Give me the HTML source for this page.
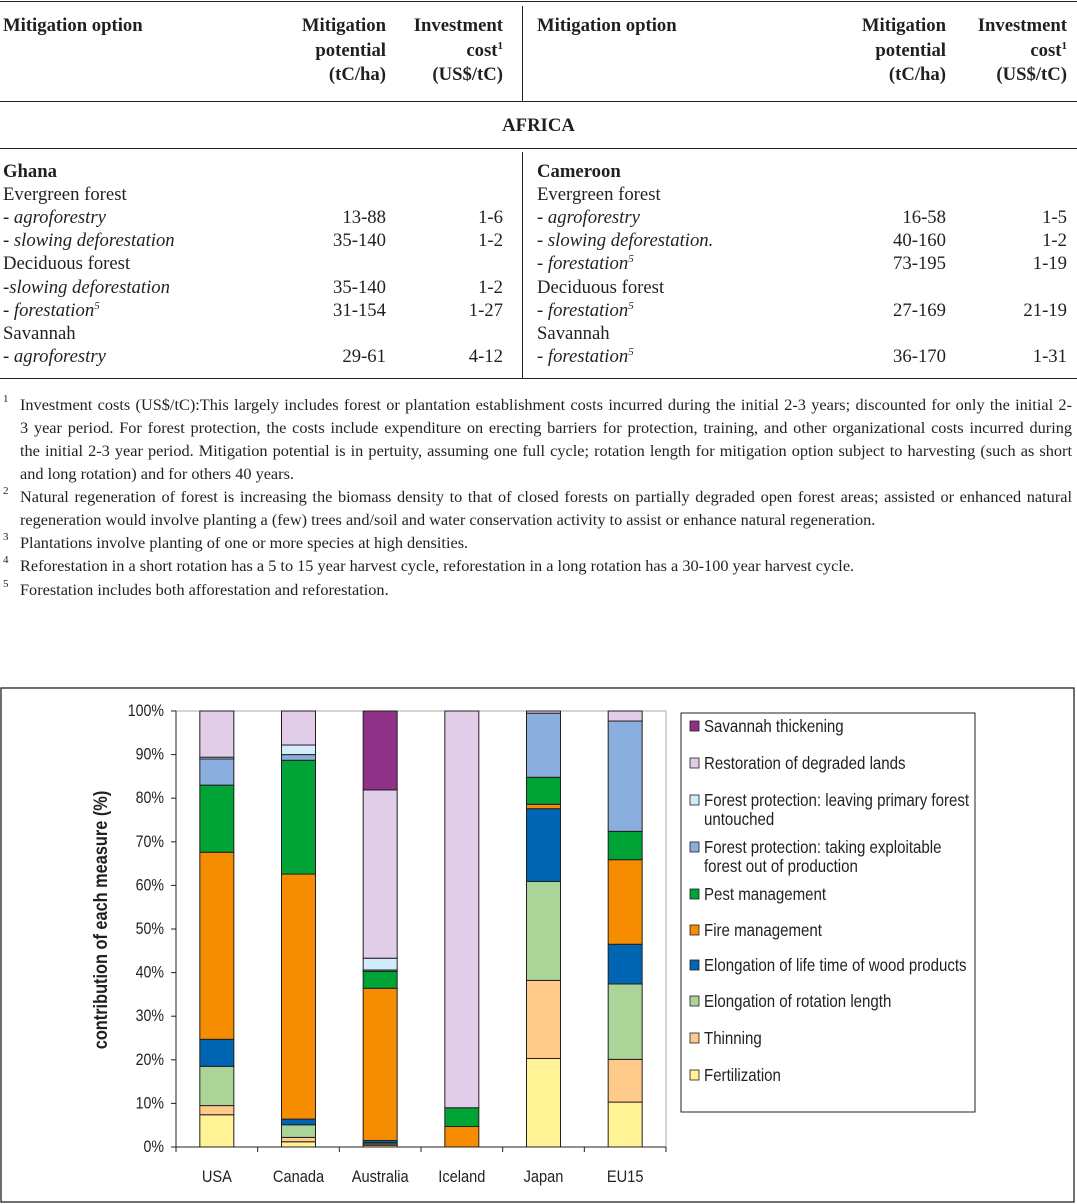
<!DOCTYPE html>
<html><head><meta charset="utf-8">
<style>
body{margin:0;width:1077px;height:1204px;background:#fff;position:relative;overflow:hidden;font-family:"Liberation Serif",serif;color:#231f20}
.t{position:absolute;font-size:18.7px;line-height:20px;white-space:nowrap}
.r{text-align:right}
.b{font-weight:bold}
.i{font-style:italic}
.hl{position:absolute;height:1.3px;background:#231f20}
.vl{position:absolute;width:1.3px;background:#231f20}
sup{font-size:11px;line-height:0}
.fl{position:absolute;left:20px;width:1052px;font-size:16.3px;line-height:23px;white-space:nowrap;text-align:justify;text-align-last:justify}
.ll{text-align-last:left}
.fnn{position:absolute;left:3px;font-size:11px}
</style></head><body>
<div class="hl" style="left:0;top:1px;width:1077px"></div>
<div class="hl" style="left:0;top:101px;width:1077px"></div>
<div class="hl" style="left:0;top:148px;width:1077px"></div>
<div class="hl" style="left:0;top:378px;width:1077px"></div>
<div class="vl" style="left:522px;top:6px;height:96px"></div>
<div class="vl" style="left:522px;top:152px;height:226px"></div>

<div>
<div class="t b" style="left:3px;top:16px">Mitigation option</div>
<div class="t b r" style="left:236px;width:150px;top:16px">Mitigation</div>
<div class="t b r" style="left:236px;width:150px;top:41px">potential</div>
<div class="t b r" style="left:236px;width:150px;top:65px">(tC/ha)</div>
<div class="t b r" style="left:353px;width:150px;top:16px">Investment</div>
<div class="t b r" style="left:353px;width:150px;top:41px">cost<sup>1</sup></div>
<div class="t b r" style="left:353px;width:150px;top:65px">(US$/tC)</div>
</div>
<div>
<div class="t b" style="left:537px;top:16px">Mitigation option</div>
<div class="t b r" style="left:796px;width:150px;top:16px">Mitigation</div>
<div class="t b r" style="left:796px;width:150px;top:41px">potential</div>
<div class="t b r" style="left:796px;width:150px;top:65px">(tC/ha)</div>
<div class="t b r" style="left:917px;width:150px;top:16px">Investment</div>
<div class="t b r" style="left:917px;width:150px;top:41px">cost<sup>1</sup></div>
<div class="t b r" style="left:917px;width:150px;top:65px">(US$/tC)</div>
</div>
<div class="t b" style="left:0;width:1077px;text-align:center;top:116px">AFRICA</div>

<div>
<div class="t b" style="left:3px;top:162px">Ghana</div>
<div class="t" style="left:3px;top:185px">Evergreen forest</div>
<div class="t i" style="left:3px;top:208px">- agroforestry</div><div class="t r" style="left:236px;width:150px;top:208px">13-88</div><div class="t r" style="left:353px;width:150px;top:208px">1-6</div>
<div class="t i" style="left:3px;top:231px">- slowing deforestation</div><div class="t r" style="left:236px;width:150px;top:231px">35-140</div><div class="t r" style="left:353px;width:150px;top:231px">1-2</div>
<div class="t" style="left:3px;top:254px">Deciduous forest</div>
<div class="t i" style="left:3px;top:278px">-slowing deforestation</div><div class="t r" style="left:236px;width:150px;top:278px">35-140</div><div class="t r" style="left:353px;width:150px;top:278px">1-2</div>
<div class="t i" style="left:3px;top:301px">- forestation<sup>5</sup></div><div class="t r" style="left:236px;width:150px;top:301px">31-154</div><div class="t r" style="left:353px;width:150px;top:301px">1-27</div>
<div class="t" style="left:3px;top:324px">Savannah</div>
<div class="t i" style="left:3px;top:347px">- agroforestry</div><div class="t r" style="left:236px;width:150px;top:347px">29-61</div><div class="t r" style="left:353px;width:150px;top:347px">4-12</div>
</div>
<div>
<div class="t b" style="left:537px;top:162px">Cameroon</div>
<div class="t" style="left:537px;top:185px">Evergreen forest</div>
<div class="t i" style="left:537px;top:208px">- agroforestry</div><div class="t r" style="left:796px;width:150px;top:208px">16-58</div><div class="t r" style="left:917px;width:150px;top:208px">1-5</div>
<div class="t i" style="left:537px;top:231px">- slowing deforestation.</div><div class="t r" style="left:796px;width:150px;top:231px">40-160</div><div class="t r" style="left:917px;width:150px;top:231px">1-2</div>
<div class="t i" style="left:537px;top:254px">- forestation<sup>5</sup></div><div class="t r" style="left:796px;width:150px;top:254px">73-195</div><div class="t r" style="left:917px;width:150px;top:254px">1-19</div>
<div class="t" style="left:537px;top:278px">Deciduous forest</div>
<div class="t i" style="left:537px;top:301px">- forestation<sup>5</sup></div><div class="t r" style="left:796px;width:150px;top:301px">27-169</div><div class="t r" style="left:917px;width:150px;top:301px">21-19</div>
<div class="t" style="left:537px;top:324px">Savannah</div>
<div class="t i" style="left:537px;top:347px">- forestation<sup>5</sup></div><div class="t r" style="left:796px;width:150px;top:347px">36-170</div><div class="t r" style="left:917px;width:150px;top:347px">1-31</div>
</div>

<div>
<div class="fnn" style="top:393px">1</div>
<div class="fl" style="top:393px">Investment costs (US$/tC):This largely includes forest or plantation establishment costs incurred during the initial 2-3 years; discounted for only the initial 2-</div>
<div class="fl" style="top:416px">3 year period. For forest protection, the costs include expenditure on erecting barriers for protection, training, and other organizational costs incurred during</div>
<div class="fl" style="top:439px">the initial 2-3 year period. Mitigation potential is in pertuity, assuming one full cycle; rotation length for mitigation option subject to harvesting (such as short</div>
<div class="fl ll" style="top:462px">and long rotation) and for others 40 years.</div>
<div class="fnn" style="top:485px">2</div>
<div class="fl" style="top:485px">Natural regeneration of forest is increasing the biomass density to that of closed forests on partially degraded open forest areas; assisted or enhanced natural</div>
<div class="fl ll" style="top:508px">regeneration would involve planting a (few) trees and/soil and water conservation activity to assist or enhance natural regeneration.</div>
<div class="fnn" style="top:531px">3</div>
<div class="fl ll" style="top:531px">Plantations involve planting of one or more species at high densities.</div>
<div class="fnn" style="top:554px">4</div>
<div class="fl ll" style="top:554px">Reforestation in a short rotation has a 5 to 15 year harvest cycle, reforestation in a long rotation has a 30-100 year harvest cycle.</div>
<div class="fnn" style="top:578px">5</div>
<div class="fl ll" style="top:578px">Forestation includes both afforestation and reforestation.</div>
</div>

<svg id="chart" style="position:absolute;left:0;top:0" width="1077" height="1204" font-family="'Liberation Sans',sans-serif"></svg>
<script>
const categories=["USA","Canada","Australia","Iceland","Japan","EU15"];
const seriesNames=["Fertilization","Thinning","Elongation of rotation length","Elongation of life time of wood products","Fire management","Pest management","Forest protection: taking exploitable forest out of production","Forest protection: leaving primary forest untouched","Restoration of degraded lands","Savannah thickening"];
const fertilization=[7.4,1.2,0.4,0,20.3,10.3];
const thinning=[2.1,1.0,0.3,0,17.9,9.8];
const rotation=[9.0,2.9,0.3,0,22.7,17.3];
const woodProducts=[6.2,1.3,0.5,0,16.7,9.1];
const fireMgmt=[42.9,56.2,34.9,4.7,1.0,19.4];
const pestMgmt=[15.4,26.1,3.9,4.3,6.2,6.5];
const protectionOutOfProduction=[6.0,1.3,0.3,0,14.7,25.3];
const protectionUntouched=[0.4,2.2,2.7,0,0,0];
const restoration=[10.6,7.8,38.6,91.0,0.5,2.3];
const savannah=[0,0,18.1,0,0,0];
const yTicks=[0,10,20,30,40,50,60,70,80,90,100];
const series=[fertilization,thinning,rotation,woodProducts,fireMgmt,pestMgmt,protectionOutOfProduction,protectionUntouched,restoration,savannah];
const colors=["#fff396","#ffca8a","#abd499","#0066b3","#f68d00","#00a335","#8aafdf","#d2ecfb","#e2cde8","#8e3187"];
const legendOrder=[9,8,7,6,5,4,3,2,1,0];
const legendLines=[["Savannah thickening"],["Restoration of degraded lands"],["Forest protection: leaving primary forest","untouched"],["Forest protection: taking exploitable","forest out of production"],["Pest management"],["Fire management"],["Elongation of life time of wood products"],["Elongation of rotation length"],["Thinning"],["Fertilization"]];
const legendY=[726,763,800,847,894,930,965,1001,1038,1075];

const svg=document.getElementById('chart');const NS='http://www.w3.org/2000/svg';
function mk(tag,attrs,parent){const e=document.createElementNS(NS,tag);for(const k in attrs)e.setAttribute(k,attrs[k]);(parent||svg).appendChild(e);return e;}
const X0=176,X1=666,Y0=1147,Y1=711;
const yScale=v=>Y0-(v/100)*(Y0-Y1);
const band=(X1-X0)/categories.length;
const xCenter=i=>X0+band*(i+0.5);
const bw=34;
const SX=0.86;

const frame=mk('rect',{x:1,y:688,width:1073,height:514,fill:'none',stroke:'#231f20','stroke-width':1.3});


const plot=mk('rect',{x:X0,y:Y1,width:X1-X0,height:Y0-Y1,fill:'#fff',stroke:'#a7a9ac','stroke-width':1});



yTicks.forEach(t=>{
  const y=yScale(t);
  const tk=mk('line',{x1:X0-5,x2:X0,y1:y,y2:y,stroke:'#231f20','stroke-width':1});
  
  
  const lb=mk('text',{x:0,y:0,transform:'translate('+(X0-12)+','+(y+5)+') scale('+SX+',1)','text-anchor':'end','font-size':16.5,fill:'#231f20'});
  lb.textContent=t+'%';
  
  
});
const ax=mk('line',{x1:X0,x2:X0,y1:Y1,y2:Y0,stroke:'#231f20','stroke-width':1});


const xa=mk('line',{x1:X0,x2:X1,y1:Y0,y2:Y0,stroke:'#231f20','stroke-width':1});


for(let i=0;i<=categories.length;i++){
  const x=X0+band*i;
  const tk=mk('line',{x1:x,x2:x,y1:Y0,y2:Y0+5,stroke:'#231f20','stroke-width':1});
  
  
}
const yt=mk('text',{x:0,y:0,transform:'translate(107,920) rotate(-90) scale('+SX+',1)','text-anchor':'middle','font-size':19,'font-weight':'bold',fill:'#231f20'});
yt.textContent='contribution of each measure (%)';



categories.forEach((c,i)=>{
  let cum=0;
  series.forEach((s,k)=>{
    const v=s[i];if(v<=0)return;
    const yTop=yScale(cum+v),yBot=yScale(cum);cum+=v;
    const r=mk('rect',{x:xCenter(i)-bw/2,y:yTop,width:bw,height:yBot-yTop,fill:colors[k],stroke:'#231f20','stroke-width':1});
    
    
  });
  const lb=mk('text',{x:0,y:0,transform:'translate('+xCenter(i)+',1182) scale('+SX+',1)','text-anchor':'middle','font-size':17,fill:'#231f20'});
  lb.textContent=c;
  
  
});

const lg=mk('rect',{x:681,y:713,width:294,height:399,fill:'#fff',stroke:'#231f20','stroke-width':1});


legendOrder.forEach((k,j)=>{
  const y=legendY[j];
  const sw=mk('rect',{x:690,y:y-5,width:9,height:10,fill:colors[k],stroke:'#231f20','stroke-width':0.8});
  
  
  legendLines[j].forEach((ln,m)=>{
    const t=mk('text',{x:0,y:0,transform:'translate(704,'+(y+6+m*19)+') scale(0.86,1)','font-size':17.5,fill:'#231f20'});
    t.textContent=ln;
    
    
  });
});
</script>
</body></html>
